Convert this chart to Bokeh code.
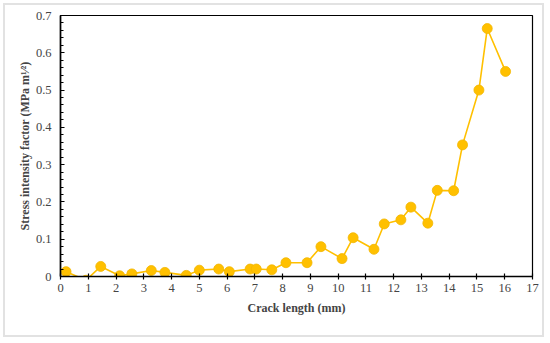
from bokeh.plotting import figure
from bokeh.layouts import column
from bokeh.models import FixedTicker, NumeralTickFormatter, Range1d
from bokeh.embed import file_html
from bokeh.resources import INLINE

# Data
crack_length = [0.2, 0.92, 1.45, 2.13, 2.57, 3.27, 3.76, 4.53, 5.0, 5.7, 6.08, 6.83,
                7.05, 7.61, 8.12, 8.88, 9.38, 10.14, 10.54, 11.29, 11.66, 12.26,
                12.62, 13.23, 13.57, 14.16, 14.48, 15.07, 15.37, 16.03]
stress_factor = [0.013, -0.01, 0.027, 0.002, 0.007, 0.016, 0.011, 0.003, 0.017, 0.020,
                 0.013, 0.020, 0.020, 0.018, 0.037, 0.037, 0.080, 0.048, 0.104, 0.073,
                 0.141, 0.152, 0.186, 0.143, 0.231, 0.230, 0.353, 0.500, 0.665, 0.550]
x_ticks = list(range(0, 18))
y_ticks = [0, 0.1, 0.2, 0.3, 0.4, 0.5, 0.6, 0.7]
y_minor = [round(i * 0.02, 2) for i in range(36)]

GOLD = "#FFC000"
FONT = "Liberation Serif"

p = figure(width=537, height=330, output_backend="svg", toolbar_location=None,
           x_range=Range1d(0, 17), y_range=Range1d(0, 0.7),
           min_border_left=55, min_border_right=10, min_border_top=10, min_border_bottom=59)
p.background_fill_color = "white"
p.border_fill_color = "white"
p.outline_line_color = "black"
p.outline_line_width = 1.2
p.grid.visible = False

p.line(crack_length, stress_factor, line_color=GOLD, line_width=1.6)
p.scatter(crack_length, stress_factor, size=10, fill_color=GOLD, line_color="#F2B600", line_width=0.8)

# x axis
xa = p.xaxis[0]
xa.ticker = FixedTicker(ticks=x_ticks)
xa.axis_label = "Crack length (mm)"
xa.axis_label_text_font = FONT
xa.axis_label_text_font_style = "bold"
xa.axis_label_text_font_size = "12px"
xa.axis_label_standoff = 6
xa.major_label_text_font = FONT
xa.major_label_text_font_size = "12.5px"
xa.major_label_standoff = 4
xa.major_tick_in = 3
xa.major_tick_out = 3
xa.axis_line_width = 1.6
xa.axis_line_color = "black"
xa.major_tick_line_color = "black"
xa.major_tick_line_width = 1.2

# y axis
ya = p.yaxis[0]
ya.ticker = FixedTicker(ticks=y_ticks, minor_ticks=y_minor)
ya.formatter = NumeralTickFormatter(format="0.[0]")
ya.axis_label = "Stress intensity factor (MPa m\u00b9\u2044\u00b2)"
ya.axis_label_text_font = FONT
ya.axis_label_text_font_style = "bold"
ya.axis_label_text_font_size = "12px"
ya.axis_label_standoff = 1
ya.major_label_text_font = FONT
ya.major_label_text_font_size = "12.5px"
ya.major_label_standoff = 9
ya.major_tick_in = 4
ya.major_tick_out = 0
ya.minor_tick_in = 3
ya.minor_tick_out = 0
ya.axis_line_width = 1.6
ya.axis_line_color = "black"
ya.major_tick_line_color = "black"
ya.minor_tick_line_color = "black"
ya.major_tick_line_width = 1.2
ya.minor_tick_line_width = 1.0

layout = column(p, margin=(3, 0, 0, 3), styles={"border": "2px solid #e2e2e2"})

open("out.html", "w").write(file_html(layout, INLINE))
